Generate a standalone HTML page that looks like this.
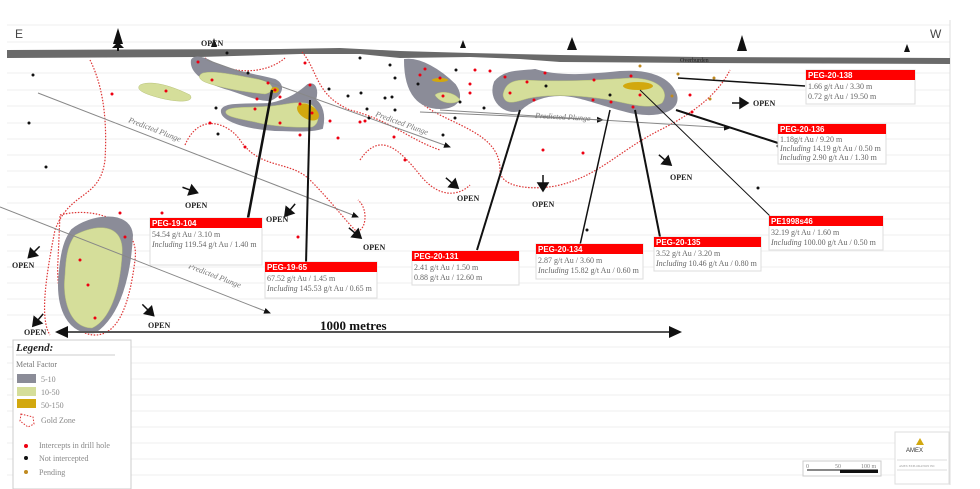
<!DOCTYPE html>
<html><head><meta charset="utf-8"><style>
body{margin:0;background:#fff;}
svg{display:block;font-family:"Liberation Serif",serif;}
.o{font-size:8px;font-weight:bold;fill:#222;}
.lbl{font-family:"Liberation Sans",sans-serif;font-size:8px;font-weight:bold;fill:#fff;}
.t{font-size:8px;fill:#666;}
.i{font-style:italic;}
</style></head><body>
<svg width="980" height="489" viewBox="0 0 980 489" xmlns="http://www.w3.org/2000/svg">
<defs>
<marker id="ah" markerWidth="8" markerHeight="8" refX="6" refY="3" orient="auto"><path d="M0,0 L7,3 L0,6z" fill="#111"/></marker>
</defs>
<rect width="980" height="489" fill="#fff"/>
<g stroke="#efefef" stroke-width="1">
<line x1="7" y1="25" x2="950" y2="25"/><line x1="7" y1="42" x2="950" y2="42"/>
<line x1="7" y1="73" x2="950" y2="73"/><line x1="7" y1="90" x2="950" y2="90"/>
<line x1="7" y1="106" x2="950" y2="106"/><line x1="7" y1="123" x2="950" y2="123"/>
<line x1="7" y1="139" x2="950" y2="139"/><line x1="7" y1="155" x2="950" y2="155"/>
<line x1="7" y1="171" x2="950" y2="171"/><line x1="7" y1="187" x2="950" y2="187"/>
<line x1="7" y1="203" x2="950" y2="203"/><line x1="7" y1="219" x2="950" y2="219"/>
<line x1="7" y1="235" x2="950" y2="235"/><line x1="7" y1="251" x2="950" y2="251"/>
<line x1="7" y1="267" x2="950" y2="267"/><line x1="7" y1="283" x2="950" y2="283"/>
<line x1="7" y1="299" x2="950" y2="299"/><line x1="7" y1="315" x2="950" y2="315"/>
<line x1="7" y1="347" x2="950" y2="347"/><line x1="7" y1="363" x2="950" y2="363"/>
<line x1="7" y1="379" x2="950" y2="379"/><line x1="7" y1="395" x2="950" y2="395"/>
<line x1="7" y1="411" x2="950" y2="411"/><line x1="7" y1="427" x2="950" y2="427"/>
<line x1="7" y1="443" x2="950" y2="443"/><line x1="7" y1="459" x2="950" y2="459"/>
<line x1="7" y1="475" x2="950" y2="475"/>
</g>
<line x1="950" y1="20" x2="950" y2="485" stroke="#ddd"/>
<text x="15" y="38" font-family="Liberation Sans" font-size="12" fill="#444">E</text>
<text x="930" y="38" font-family="Liberation Sans" font-size="12" fill="#444">W</text>
<path d="M7,50 L280,49 L340,48 L400,51 L470,53 L560,55 L700,57 L950,58 L950,64 L700,63 L560,62 L520,59 L470,57 L400,58 L360,54 L300,54 L200,57 L7,58z" fill="#6a6a6a"/>
<text x="680" y="62" font-size="6" fill="#222">Overburden</text>
<g fill="#111">
<path d="M118,28 L113,44 L116,44 L112,48 L124,48 L120,44 L123,44z"/><rect x="117" y="48" width="2" height="3"/>
<path d="M214,38 L211,47 L217,47z"/>
<path d="M463,40 L460,48 L466,48z"/>
<path d="M572,37 L567,50 L577,50z"/>
<path d="M742,35 L737,51 L747,51z"/>
<path d="M907,44 L904,52 L910,52z"/>
</g>
<g fill="none" stroke="#d33" stroke-width="1.2" stroke-dasharray="1.5,1.5">
<path d="M90,60 C100,80 108,110 105,160 C100,200 70,190 55,230 C45,280 40,320 50,335"/>
<path d="M205,58 C230,75 265,75 285,58"/>
<path d="M302,52 C318,70 315,95 350,110 C390,120 410,140 440,150"/>
<path d="M185,145 C200,110 230,125 240,140 C260,170 290,160 310,180 C330,200 345,220 355,230 C365,235 370,210 358,200"/>
<path d="M360,160 C380,130 400,150 420,175 C440,200 460,195 470,185"/>
<path d="M415,62 C400,80 410,100 440,115 C470,130 500,140 500,170 C500,190 540,190 560,185 C600,175 620,150 660,130 C700,110 720,90 730,70"/>
<path d="M60,215 C100,205 140,225 135,260 C130,300 120,335 95,335 C70,335 55,300 58,260z"/>
</g>
<g stroke="#8b8c98" stroke-width="2" fill="#8b8c98">
<path d="M192,60 C195,55 205,58 215,64 C235,72 260,76 275,80 C285,85 282,95 270,100 C255,100 240,92 225,88 C205,82 190,72 192,60z"/>
<path d="M222,110 C225,103 245,105 270,104 C290,100 300,92 308,85 C315,82 318,90 315,100 C322,105 325,115 322,128 C310,132 290,130 275,130 C245,128 220,120 222,110z"/>
<path d="M405,60 C420,58 440,70 455,85 C465,100 455,108 440,108 C420,108 405,95 405,60z"/>
<path d="M495,82 C505,70 520,72 535,70 C560,78 590,75 620,72 C650,70 670,78 676,95 C680,110 660,118 630,112 C600,105 580,95 560,95 C545,95 530,100 520,110 C505,115 488,100 495,82z"/>
<path d="M72,230 C90,215 130,210 132,235 C130,275 120,315 95,332 C70,335 55,310 60,270 C62,250 65,240 72,230z"/>
</g>
<g fill="#d5de9a" stroke="#b8c27a" stroke-width="0.5">
<path d="M140,85 C150,80 170,85 190,95 C195,102 180,103 160,98 C145,94 135,90 140,85z"/>
<path d="M203,73 C215,70 240,76 262,80 C275,84 275,92 265,94 C245,92 220,88 205,82 C198,79 198,75 203,73z"/>
<path d="M226,111 C230,106 250,108 272,106 C290,104 300,100 312,105 C320,112 320,124 312,127 C295,128 270,126 255,122 C235,118 224,116 226,111z"/>
<path d="M503,95 C505,82 515,80 525,80 C560,82 600,80 630,78 C660,78 670,92 662,103 C650,110 630,104 610,100 C580,95 550,94 530,98 C520,100 505,108 503,95z"/>
<path d="M435,95 C440,90 455,92 460,100 C455,105 440,104 435,95z"/>
<path d="M75,235 C100,222 125,225 122,255 C120,290 110,320 92,328 C70,328 62,300 65,275 C66,255 68,245 75,235z"/>
</g>
<g fill="#d2a80e">
<ellipse cx="308" cy="112" rx="12" ry="7" transform="rotate(30 308 112)"/>
<ellipse cx="275" cy="90" rx="4" ry="3"/>
<ellipse cx="638" cy="86" rx="15" ry="4"/>
<ellipse cx="440" cy="80" rx="8" ry="2"/>
</g>
<g stroke="#888" stroke-width="1" marker-end="url(#ah)">
<line x1="38" y1="93" x2="358" y2="217"/>
<line x1="0" y1="207" x2="270" y2="313"/>
<line x1="207" y1="60" x2="450" y2="147"/>
<line x1="420" y1="112" x2="603" y2="120"/>
<line x1="440" y1="110" x2="730" y2="128"/>
</g>
<g font-size="8" fill="#777" font-style="italic">
<text x="128" y="122" transform="rotate(21 128 122)">Predicted Plunge</text>
<text x="188" y="268" transform="rotate(21 188 268)">Predicted Plunge</text>
<text x="375" y="116" transform="rotate(20 375 116)">Predicted Plunge</text>
<text x="535" y="118" transform="rotate(3 535 118)">Predicted Plunge</text>
</g>
<g stroke="#111" fill="none">
<line x1="272" y1="90" x2="248" y2="218" stroke-width="2.5"/>
<line x1="310" y1="100" x2="306" y2="264" stroke-width="2"/>
<line x1="520" y1="110" x2="477" y2="250" stroke-width="2"/>
<line x1="610" y1="110" x2="580" y2="245" stroke-width="1.5"/>
<line x1="635" y1="110" x2="660" y2="237" stroke-width="2"/>
<line x1="640" y1="90" x2="770" y2="216" stroke-width="1"/>
<line x1="678" y1="78" x2="805" y2="86" stroke-width="1.5"/>
<line x1="676" y1="110" x2="778" y2="143" stroke-width="2"/>
</g>
<g fill="#e01">
<circle cx="198" cy="62" r="1.5"/><circle cx="212" cy="80" r="1.5"/><circle cx="166" cy="91" r="1.5"/><circle cx="268" cy="83" r="1.5"/><circle cx="275" cy="90" r="1.5"/><circle cx="257" cy="99" r="1.5"/><circle cx="280" cy="97" r="1.5"/><circle cx="310" cy="85" r="1.5"/><circle cx="300" cy="104" r="1.5"/><circle cx="312" cy="113" r="1.5"/><circle cx="255" cy="109" r="1.5"/><circle cx="280" cy="123" r="1.5"/><circle cx="330" cy="121" r="1.5"/><circle cx="300" cy="135" r="1.5"/><circle cx="112" cy="94" r="1.5"/><circle cx="210" cy="123" r="1.5"/><circle cx="245" cy="147" r="1.5"/><circle cx="338" cy="138" r="1.5"/><circle cx="365" cy="121" r="1.5"/><circle cx="405" cy="160" r="1.5"/><circle cx="394" cy="137" r="1.5"/><circle cx="305" cy="63" r="1.5"/><circle cx="360" cy="122" r="1.5"/><circle cx="420" cy="75" r="1.5"/><circle cx="425" cy="69" r="1.5"/><circle cx="440" cy="78" r="1.5"/><circle cx="443" cy="96" r="1.5"/><circle cx="470" cy="93" r="1.5"/><circle cx="470" cy="84" r="1.5"/><circle cx="475" cy="70" r="1.5"/><circle cx="490" cy="71" r="1.5"/><circle cx="505" cy="77" r="1.5"/><circle cx="527" cy="82" r="1.5"/><circle cx="545" cy="73" r="1.5"/><circle cx="534" cy="100" r="1.5"/><circle cx="510" cy="93" r="1.5"/><circle cx="594" cy="80" r="1.5"/><circle cx="631" cy="76" r="1.5"/><circle cx="640" cy="95" r="1.5"/><circle cx="611" cy="102" r="1.5"/><circle cx="593" cy="100" r="1.5"/><circle cx="633" cy="107" r="1.5"/><circle cx="690" cy="95" r="1.5"/><circle cx="692" cy="112" r="1.5"/><circle cx="543" cy="150" r="1.5"/><circle cx="583" cy="153" r="1.5"/><circle cx="125" cy="237" r="1.5"/><circle cx="120" cy="213" r="1.5"/><circle cx="80" cy="260" r="1.5"/><circle cx="95" cy="318" r="1.5"/><circle cx="298" cy="237" r="1.5"/><circle cx="162" cy="213" r="1.5"/><circle cx="88" cy="285" r="1.5"/>
</g>
<g fill="#111">
<circle cx="33" cy="75" r="1.5"/><circle cx="29" cy="123" r="1.5"/><circle cx="46" cy="167" r="1.5"/><circle cx="227" cy="53" r="1.5"/><circle cx="248" cy="73" r="1.5"/><circle cx="216" cy="108" r="1.5"/><circle cx="218" cy="134" r="1.5"/><circle cx="329" cy="89" r="1.5"/><circle cx="348" cy="96" r="1.5"/><circle cx="361" cy="93" r="1.5"/><circle cx="367" cy="109" r="1.5"/><circle cx="395" cy="110" r="1.5"/><circle cx="369" cy="118" r="1.5"/><circle cx="395" cy="78" r="1.5"/><circle cx="390" cy="65" r="1.5"/><circle cx="360" cy="58" r="1.5"/><circle cx="418" cy="84" r="1.5"/><circle cx="385" cy="98" r="1.5"/><circle cx="455" cy="118" r="1.5"/><circle cx="456" cy="70" r="1.5"/><circle cx="484" cy="108" r="1.5"/><circle cx="460" cy="102" r="1.5"/><circle cx="546" cy="86" r="1.5"/><circle cx="610" cy="95" r="1.5"/><circle cx="778" cy="146" r="1.5"/><circle cx="758" cy="188" r="1.5"/><circle cx="587" cy="230" r="1.5"/><circle cx="443" cy="135" r="1.5"/><circle cx="392" cy="97" r="1.5"/>
</g>
<g fill="#c08a20">
<circle cx="640" cy="66" r="1.5"/><circle cx="678" cy="74" r="1.5"/><circle cx="714" cy="78" r="1.5"/><circle cx="710" cy="99" r="1.5"/><circle cx="672" cy="96" r="1.5"/>
</g>
<g fill="#111" stroke="#111" stroke-width="1.5">
<g transform="translate(190,190) rotate(20)"><line x1="-8" y1="0" x2="2" y2="0"/><path d="M0,-5 L8,0 L0,5z"/></g>
<g transform="translate(290,210) rotate(130)"><line x1="-8" y1="0" x2="2" y2="0"/><path d="M0,-5 L8,0 L0,5z"/></g>
<g transform="translate(355,233) rotate(40)"><line x1="-8" y1="0" x2="2" y2="0"/><path d="M0,-5 L8,0 L0,5z"/></g>
<g transform="translate(452,183) rotate(40)"><line x1="-8" y1="0" x2="2" y2="0"/><path d="M0,-5 L8,0 L0,5z"/></g>
<g transform="translate(543,183) rotate(90)"><line x1="-8" y1="0" x2="2" y2="0"/><path d="M0,-5 L8,0 L0,5z"/></g>
<g transform="translate(665,160) rotate(40)"><line x1="-8" y1="0" x2="2" y2="0"/><path d="M0,-5 L8,0 L0,5z"/></g>
<g transform="translate(740,103) rotate(0)"><line x1="-8" y1="0" x2="2" y2="0"/><path d="M0,-5 L8,0 L0,5z"/></g>
<g transform="translate(34,252) rotate(135)"><line x1="-8" y1="0" x2="2" y2="0"/><path d="M0,-5 L8,0 L0,5z"/></g>
<g transform="translate(38,320) rotate(130)"><line x1="-8" y1="0" x2="2" y2="0"/><path d="M0,-5 L8,0 L0,5z"/></g>
<g transform="translate(148,310) rotate(45)"><line x1="-8" y1="0" x2="2" y2="0"/><path d="M0,-5 L8,0 L0,5z"/></g>
</g>
<g class="o">
<text x="185" y="208">OPEN</text><text x="201" y="46">OPEN</text><text x="266" y="222">OPEN</text><text x="363" y="250">OPEN</text><text x="457" y="201">OPEN</text><text x="532" y="207">OPEN</text><text x="670" y="180">OPEN</text><text x="753" y="106">OPEN</text><text x="12" y="268">OPEN</text><text x="24" y="335">OPEN</text><text x="148" y="328">OPEN</text>
</g>
<line x1="62" y1="332" x2="675" y2="332" stroke="#555" stroke-width="2"/>
<path d="M55,332 L68,326 L68,338z M682,332 L669,326 L669,338z" fill="#111"/>
<text x="320" y="330" font-size="13" font-weight="bold" fill="#111">1000 metres</text>
<g>
<rect x="150" y="218" width="112" height="47" fill="#fff" stroke="#ddd"/><rect x="150" y="218" width="112" height="10" fill="#f00"/>
<text class="lbl" x="152" y="226">PEG-19-104</text>
<text class="t" x="152" y="237">54.54 g/t Au / 3.10 m</text><text class="t" x="152" y="247"><tspan class="i">Including</tspan> 119.54 g/t Au / 1.40 m</text>
<rect x="265" y="262" width="112" height="36" fill="#fff" stroke="#ddd"/><rect x="265" y="262" width="112" height="10" fill="#f00"/>
<text class="lbl" x="267" y="270">PEG-19-65</text>
<text class="t" x="267" y="281">67.52 g/t Au / 1.45 m</text><text class="t" x="267" y="291"><tspan class="i">Including</tspan> 145.53 g/t Au / 0.65 m</text>
<rect x="412" y="251" width="107" height="34" fill="#fff" stroke="#ddd"/><rect x="412" y="251" width="107" height="10" fill="#f00"/>
<text class="lbl" x="414" y="259">PEG-20-131</text>
<text class="t" x="414" y="270">2.41 g/t Au / 1.50 m</text><text class="t" x="414" y="280">0.88 g/t Au / 12.60 m</text>
<rect x="536" y="244" width="107" height="35" fill="#fff" stroke="#ddd"/><rect x="536" y="244" width="107" height="10" fill="#f00"/>
<text class="lbl" x="538" y="252">PEG-20-134</text>
<text class="t" x="538" y="263">2.87 g/t Au / 3.60 m</text><text class="t" x="538" y="273"><tspan class="i">Including</tspan> 15.82 g/t Au / 0.60 m</text>
<rect x="654" y="237" width="107" height="34" fill="#fff" stroke="#ddd"/><rect x="654" y="237" width="107" height="10" fill="#f00"/>
<text class="lbl" x="656" y="245">PEG-20-135</text>
<text class="t" x="656" y="256">3.52 g/t Au / 3.20 m</text><text class="t" x="656" y="266"><tspan class="i">Including</tspan> 10.46 g/t Au / 0.80 m</text>
<rect x="769" y="216" width="114" height="34" fill="#fff" stroke="#ddd"/><rect x="769" y="216" width="114" height="10" fill="#f00"/>
<text class="lbl" x="771" y="224">PE1998s46</text>
<text class="t" x="771" y="235">32.19 g/t Au / 1.60 m</text><text class="t" x="771" y="245"><tspan class="i">Including</tspan> 100.00 g/t Au / 0.50 m</text>
<rect x="778" y="124" width="108" height="40" fill="#fff" stroke="#ddd"/><rect x="778" y="124" width="108" height="10" fill="#f00"/>
<text class="lbl" x="780" y="132">PEG-20-136</text>
<text class="t" x="780" y="142">1.18g/t Au / 9.20 m</text><text class="t" x="780" y="151"><tspan class="i">Including</tspan> 14.19 g/t Au / 0.50 m</text><text class="t" x="780" y="160"><tspan class="i">Including</tspan> 2.90 g/t Au / 1.30 m</text>
<rect x="806" y="70" width="109" height="34" fill="#fff" stroke="#ddd"/><rect x="806" y="70" width="109" height="10" fill="#f00"/>
<text class="lbl" x="808" y="78">PEG-20-138</text>
<text class="t" x="808" y="89">1.66 g/t Au / 3.30 m</text><text class="t" x="808" y="99">0.72 g/t Au / 19.50 m</text>
</g>
<rect x="13" y="340" width="118" height="149" fill="#fff" stroke="#ccc"/>
<text x="16" y="351" font-size="11" font-weight="bold" font-style="italic" fill="#222">Legend:</text>
<line x1="16" y1="355" x2="115" y2="355" stroke="#ccc"/>
<text x="16" y="367" font-size="8" fill="#777">Metal Factor</text>
<rect x="17" y="374" width="19" height="9" fill="#8b8c98"/><text x="41" y="382" font-size="8" fill="#888">5-10</text>
<rect x="17" y="387" width="19" height="9" fill="#d5de9a"/><text x="41" y="395" font-size="8" fill="#888">10-50</text>
<rect x="17" y="399" width="19" height="9" fill="#d2a80e"/><text x="41" y="408" font-size="8" fill="#888">50-150</text>
<path d="M21,414 L33,417 L34,424 L28,427 L20,421z" fill="none" stroke="#d33" stroke-dasharray="1.5,1.5"/>
<text x="41" y="423" font-size="8" fill="#888">Gold Zone</text>
<circle cx="26" cy="446" r="2" fill="#e01"/><text x="39" y="448" font-size="8" fill="#888">Intercepts in drill hole</text>
<circle cx="26" cy="458" r="2" fill="#111"/><text x="39" y="461" font-size="8" fill="#888">Not intercepted</text>
<circle cx="26" cy="472" r="2" fill="#c08a20"/><text x="39" y="475" font-size="8" fill="#888">Pending</text>
<rect x="803" y="461" width="78" height="15" fill="#fff" stroke="#ccc"/>
<line x1="807" y1="470" x2="878" y2="470" stroke="#111" stroke-width="1"/><rect x="840" y="470" width="38" height="3" fill="#111"/>
<text x="806" y="468" font-size="6" fill="#888">0</text><text x="835" y="468" font-size="6" fill="#888">50</text><text x="861" y="468" font-size="6" fill="#888">100 m</text>
<rect x="895" y="432" width="54" height="52" fill="#fff" stroke="#ddd"/>
<path d="M920,438 L916,445 L924,445z" fill="#d2a80e"/>
<text x="906" y="452" font-family="Liberation Sans" font-size="6" fill="#333">AMEX</text>
<line x1="897" y1="460" x2="947" y2="460" stroke="#ddd"/><line x1="897" y1="470" x2="947" y2="470" stroke="#ddd"/>
<text x="899" y="467" font-size="3" fill="#999">AMEX EXPLORATION INC</text>
</svg>
</body></html>
